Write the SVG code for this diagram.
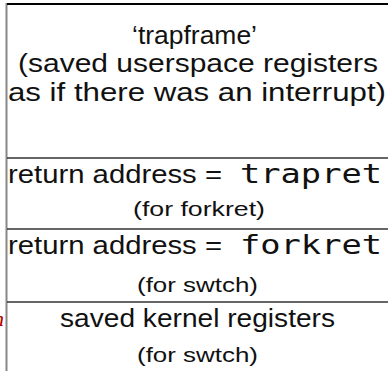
<svg xmlns="http://www.w3.org/2000/svg" width="388" height="371" viewBox="0 0 388 371">
<style>
.t{font-family:"Liberation Sans",Arial,sans-serif;fill:#111;}
.big{font-size:26px;}
.small{font-size:20px;}
.mono{font-family:"DejaVu Sans Mono","Liberation Mono",monospace;font-size:26px;fill:#111;}
.sep{stroke:#333;stroke-width:1.5;fill:none;}
</style>
<rect width="388" height="371" fill="#fff"/>
<g id="connectors">
<line x1="6.5" y1="3" x2="6.5" y2="371" stroke="#888" stroke-width="2"/>
<line x1="7" y1="4" x2="388" y2="4" stroke="#000" stroke-width="2"/>
<line class="sep" x1="7" y1="158" x2="388" y2="158"/>
<line class="sep" x1="7" y1="229" x2="388" y2="229"/>
<line class="sep" x1="7" y1="302" x2="388" y2="302"/>
</g>
<g id="trapframe">
<text class="t big" x="132" y="44" textLength="125" lengthAdjust="spacingAndGlyphs">‘trapframe’</text>
<text class="t big" x="18" y="72" textLength="360" lengthAdjust="spacingAndGlyphs">(saved userspace registers</text>
<text class="t big" x="8" y="101" textLength="378" lengthAdjust="spacingAndGlyphs">as if there was an interrupt)</text>
</g>
<g id="ret-trapret">
<text class="t big" x="8" y="183" textLength="214" lengthAdjust="spacingAndGlyphs">return address =</text>
<text class="mono" x="240" y="183" textLength="142" lengthAdjust="spacingAndGlyphs">trapret</text>
<text class="t small" x="133" y="216" textLength="132" lengthAdjust="spacingAndGlyphs">(for forkret)</text>
</g>
<g id="ret-forkret">
<text class="t big" x="8" y="254" textLength="214" lengthAdjust="spacingAndGlyphs">return address =</text>
<text class="mono" x="240" y="254" textLength="142" lengthAdjust="spacingAndGlyphs">forkret</text>
<text class="t small" x="137" y="292" textLength="121" lengthAdjust="spacingAndGlyphs">(for swtch)</text>
</g>
<g id="kernel-regs">
<text class="t big" x="60" y="327" textLength="275" lengthAdjust="spacingAndGlyphs">saved kernel registers</text>
<text class="t small" x="137" y="362" textLength="121" lengthAdjust="spacingAndGlyphs">(for swtch)</text>
</g>
<g id="offpage-label">
<text x="-7" y="326" font-family="Liberation Serif,serif" font-style="italic" font-size="22" fill="#b00000">n</text>
</g>
</svg>
